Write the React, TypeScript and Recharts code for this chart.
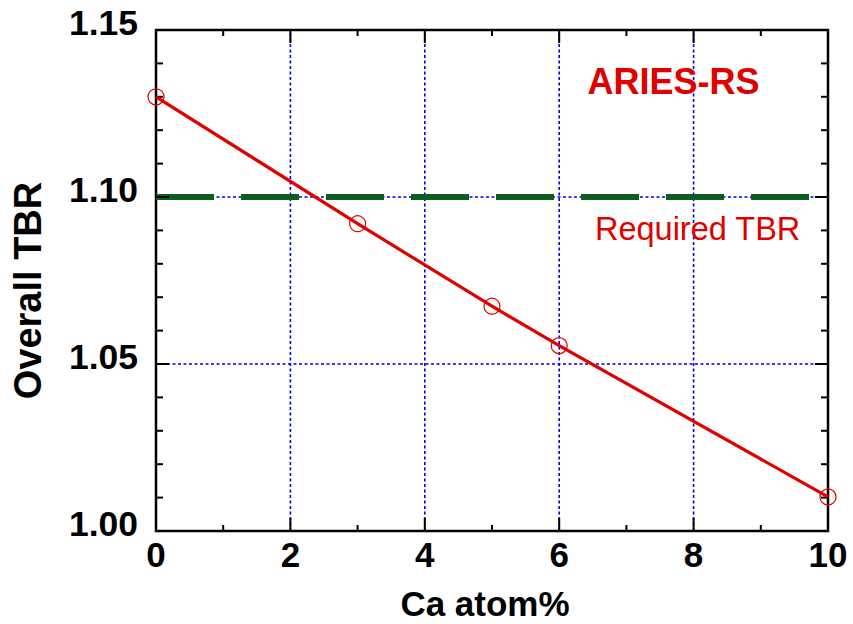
import React from 'react';
import {
  ComposedChart,
  Line,
  XAxis,
  YAxis,
  ReferenceLine,
  ReferenceDot,
  ReferenceArea,
} from 'recharts';

// ---- data ----
const caAtomPct = [0, 3, 5, 6, 10];
const overallTBR = [1.13, 1.092, 1.0673, 1.0555, 1.0102];
const requiredTBR = 1.1;

const xMajorTicks = [0, 2, 4, 6, 8, 10];
const xAllTicks = [0, 1, 2, 3, 4, 5, 6, 7, 8, 9, 10];
const yMajorTicks = [1.0, 1.05, 1.1, 1.15];
const yAllTicks = [
  1.0, 1.01, 1.02, 1.03, 1.04, 1.05, 1.06, 1.07, 1.08, 1.09, 1.1, 1.11, 1.12,
  1.13, 1.14, 1.15,
];
const yTickLabels = ['1.00', '1.05', '1.10', '1.15'];
const gridX = [2, 4, 6, 8];
const gridY = [1.05, 1.1];

const titleText = 'ARIES-RS';
const requiredText = 'Required TBR';
const xTitle = 'Ca atom%';
const yTitle = 'Overall TBR';

const data = caAtomPct.map((x, i) => ({ x, tbr: overallTBR[i] }));

const FONT = '"Liberation Sans", Arial, Helvetica, sans-serif';
const RED = '#e00000';
const GREEN = '#0b5e1c';
const BLUE = '#0000e6';

const isMajorX = (v: number) => xMajorTicks.some((t) => Math.abs(t - v) < 1e-9);
const majorYIndex = (v: number) =>
  yMajorTicks.findIndex((t) => Math.abs(t - v) < 1e-6);

const BottomLabel = (props: any) => {
  const { x, y, payload } = props;
  if (!isMajorX(payload.value)) return <g />;
  return (
    <text
      x={x}
      y={y + 36}
      textAnchor="middle"
      fontFamily={FONT}
      fontWeight="bold"
      fontSize={35}
      fill="#000"
    >
      {String(payload.value)}
    </text>
  );
};

const LeftLabel = (props: any) => {
  const { x, y, payload } = props;
  const mi = majorYIndex(payload.value);
  if (mi < 0) return <g />;
  return (
    <text
      x={x - 18}
      y={y + 5}
      textAnchor="end"
      fontFamily={FONT}
      fontWeight="bold"
      fontSize={35.5}
      fill="#000"
    >
      {yTickLabels[mi]}
    </text>
  );
};

// tick marks drawn at both ends of a reference line (inward ticks on the frame)
const makeXTickShape = (len: number) => (p: any) => {
  const x = p.x1;
  const top = Math.min(p.y1, p.y2);
  const bot = Math.max(p.y1, p.y2);
  return (
    <g>
      <line x1={x} y1={bot} x2={x} y2={bot - len} stroke="#000" strokeWidth={2} />
      <line x1={x} y1={top} x2={x} y2={top + len} stroke="#000" strokeWidth={2} />
    </g>
  );
};
const makeYTickShape = (len: number) => (p: any) => {
  const y = p.y1;
  const l = Math.min(p.x1, p.x2);
  const r = Math.max(p.x1, p.x2);
  return (
    <g>
      <line x1={l} y1={y} x2={l + len} y2={y} stroke="#000" strokeWidth={2} />
      <line x1={r} y1={y} x2={r - len} y2={y} stroke="#000" strokeWidth={2} />
    </g>
  );
};

const OpenCircle = (props: any) => {
  const { cx, cy } = props;
  if (cx == null || cy == null) return <g />;
  return <circle cx={cx} cy={cy} r={8} fill="none" stroke={RED} strokeWidth={1.2} />;
};

const XTitle = (props: any) => {
  const vb = props.viewBox || {};
  return (
    <text
      x={vb.x + vb.width / 2 - 7}
      y={vb.y + vb.height - 8}
      textAnchor="middle"
      fontFamily={FONT}
      fontWeight="bold"
      fontSize={35}
      fill="#000"
    >
      {xTitle}
    </text>
  );
};

const YTitle = (props: any) => {
  const vb = props.viewBox || {};
  const cx = vb.x + 41;
  const cy = vb.y + vb.height / 2 + 10;
  return (
    <text
      x={cx}
      y={cy}
      transform={`rotate(-90 ${cx} ${cy})`}
      textAnchor="middle"
      fontFamily={FONT}
      fontWeight="bold"
      fontSize={38}
      fill="#000"
    >
      {yTitle}
    </text>
  );
};

export default function App() {
  return (
    <div style={{ position: 'absolute', left: 0, top: 0, background: '#fff' }}>
      <ComposedChart
        width={853}
        height={624}
        data={data}
        margin={{ top: 30, right: 25, bottom: 0, left: 0 }}
      >
        <XAxis
          xAxisId="b"
          dataKey="x"
          type="number"
          orientation="bottom"
          domain={[0, 10]}
          ticks={xAllTicks}
          interval={0}
          height={93}
          tickSize={0}
          tickMargin={0}
          tickLine={false}
          tick={<BottomLabel />}
          axisLine={false}
          label={<XTitle />}
        />
        <YAxis
          yAxisId="l"
          type="number"
          orientation="left"
          domain={[1.0, 1.15]}
          ticks={yAllTicks}
          interval={0}
          width={156}
          tickSize={0}
          tickMargin={0}
          tickLine={false}
          tick={<LeftLabel />}
          axisLine={false}
          label={<YTitle />}
        />
        {gridX.map((gx) => (
          <ReferenceLine
            key={`gx${gx}`}
            x={gx}
            xAxisId="b"
            yAxisId="l"
            stroke={BLUE}
            strokeWidth={1.6}
            strokeDasharray="3 2.5"
          />
        ))}
        {gridY.map((gy) => (
          <ReferenceLine
            key={`gy${gy}`}
            y={gy}
            xAxisId="b"
            yAxisId="l"
            stroke={BLUE}
            strokeWidth={1.6}
            strokeDasharray="3 2.5"
          />
        ))}
        <ReferenceLine
          y={requiredTBR}
          xAxisId="b"
          yAxisId="l"
          stroke={GREEN}
          strokeWidth={6}
          strokeDasharray="58 27"
        />
        {xAllTicks.map((t) => (
          <ReferenceLine
            key={`xt${t}`}
            x={t}
            xAxisId="b"
            yAxisId="l"
            stroke="none"
            shape={makeXTickShape(isMajorX(t) ? 13 : 6)}
          />
        ))}
        {yAllTicks.map((t) => (
          <ReferenceLine
            key={`yt${t}`}
            y={t}
            xAxisId="b"
            yAxisId="l"
            stroke="none"
            shape={makeYTickShape(majorYIndex(t) >= 0 ? 13 : 7)}
          />
        ))}
        <ReferenceArea
          x1={0}
          x2={10}
          y1={1.0}
          y2={1.15}
          xAxisId="b"
          yAxisId="l"
          fill="none"
          fillOpacity={0}
          stroke="#000"
          strokeWidth={2.5}
        />
        <ReferenceDot
          x={7.7}
          y={1.1346}
          r={0}
          xAxisId="b"
          yAxisId="l"
          fill="none"
          stroke="none"
          label={{
            value: titleText,
            position: 'center',
            fill: RED,
            fontSize: 36,
            fontWeight: 'bold',
            fontFamily: FONT,
          }}
        />
        <ReferenceDot
          x={8.06}
          y={1.0907}
          r={0}
          xAxisId="b"
          yAxisId="l"
          fill="none"
          stroke="none"
          label={{
            value: requiredText,
            position: 'center',
            fill: RED,
            fontSize: 32.5,
            fontFamily: FONT,
          }}
        />
        <Line
          xAxisId="b"
          yAxisId="l"
          type="linear"
          dataKey="tbr"
          stroke={RED}
          strokeWidth={3.2}
          dot={<OpenCircle />}
          activeDot={false}
          isAnimationActive={false}
        />
      </ComposedChart>
    </div>
  );
}
